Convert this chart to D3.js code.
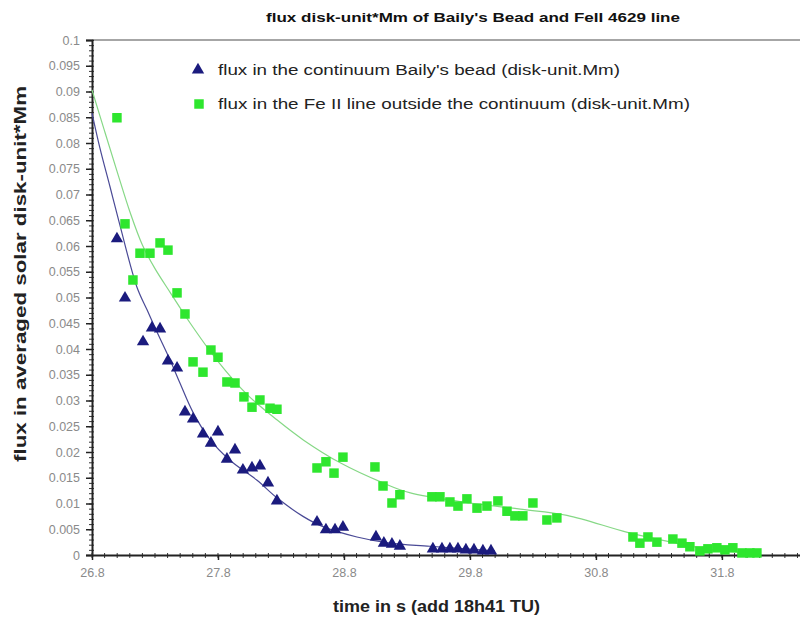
<!DOCTYPE html>
<html><head><meta charset="utf-8">
<script src="https://cdn.jsdelivr.net/npm/d3@7/dist/d3.min.js"></script>
<style>html,body{margin:0;padding:0;background:#fff;}svg{display:block;}</style>
</head><body>
<script>
const chartTitle = "flux disk-unit*Mm of Baily's Bead and FeII 4629 line";
const xTitle = "time in s (add 18h41 TU)";
const yTitle = "flux in averaged solar disk-unit*Mm";
const seriesNames = ["flux in the continuum Baily's bead (disk-unit.Mm)", "flux in the  Fe II line outside the continuum  (disk-unit.Mm)"];
const xTickValues = [26.8, 27.8, 28.8, 29.8, 30.8, 31.8];
const xTickLabels = ["26.8", "27.8", "28.8", "29.8", "30.8", "31.8"];
const yTickValues = [0, 0.005, 0.01, 0.015, 0.02, 0.025, 0.03, 0.035, 0.04, 0.045, 0.05, 0.055, 0.06, 0.065, 0.07, 0.075, 0.08, 0.085, 0.09, 0.095, 0.1];
const yTickLabels = ["0", "0.005", "0.01", "0.015", "0.02", "0.025", "0.03", "0.035", "0.04", "0.045", "0.05", "0.055", "0.06", "0.065", "0.07", "0.075", "0.08", "0.085", "0.09", "0.095", "0.1"];

// Baily's bead (continuum) points
const beadTime = [26.998, 27.062, 27.205, 27.276, 27.34, 27.403, 27.475, 27.538, 27.602, 27.681, 27.8, 27.744, 27.935, 27.871, 27.998, 28.07, 28.133, 28.197, 28.268, 28.586, 28.657, 28.729, 28.792, 29.054, 29.117, 29.181, 29.244, 29.506, 29.578, 29.641, 29.705, 29.768, 29.832, 29.903, 29.967];
const beadFlux = [0.0614, 0.0499, 0.0414, 0.0441, 0.0439, 0.0377, 0.0363, 0.0278, 0.0264, 0.0235, 0.0239, 0.0217, 0.0204, 0.0186, 0.0165, 0.0169, 0.0173, 0.014, 0.0105, 0.0064, 0.0049, 0.0049, 0.0054, 0.0035, 0.0023, 0.0021, 0.0017, 0.0012, 0.0012, 0.0012, 0.0012, 0.001, 0.001, 0.0008, 0.0008];
// Fe II line points
const feTime = [26.998, 27.062, 27.125, 27.181, 27.26, 27.34, 27.403, 27.475, 27.538, 27.602, 27.681, 27.744, 27.8, 27.871, 27.935, 28.006, 28.07, 28.133, 28.213, 28.268, 28.586, 28.657, 28.721, 28.792, 29.046, 29.11, 29.181, 29.244, 29.498, 29.562, 29.641, 29.705, 29.776, 29.856, 29.935, 30.022, 30.094, 30.157, 30.22, 30.3, 30.411, 30.49, 31.094, 31.149, 31.213, 31.284, 31.411, 31.483, 31.546, 31.625, 31.689, 31.76, 31.824, 31.887, 31.959, 32.022, 32.078];
const feFlux = [0.0849, 0.0643, 0.0534, 0.0586, 0.0586, 0.0606, 0.0592, 0.0509, 0.0468, 0.0375, 0.0355, 0.0398, 0.0384, 0.0336, 0.0334, 0.0307, 0.0287, 0.0301, 0.0285, 0.0283, 0.0169, 0.0181, 0.0159, 0.019, 0.0171, 0.0134, 0.0101, 0.0117, 0.0113, 0.0113, 0.0103, 0.0095, 0.0109, 0.0091, 0.0095, 0.0105, 0.0085, 0.0076, 0.0076, 0.0101, 0.0068, 0.0072, 0.0035, 0.0023, 0.0035, 0.0025, 0.0031, 0.0023, 0.0016, 0.0008, 0.0012, 0.0014, 0.001, 0.0014, 0.0004, 0.0004, 0.0004];

// fitted trend curves
const beadFitTime = [26.8, 26.863, 26.943, 27.022, 27.157, 27.237, 27.316, 27.419, 27.498, 27.602, 27.737, 27.895, 28.11, 28.268, 28.475, 28.633, 28.903, 29.165, 29.483, 29.998];
const beadFitFlux = [0.0858, 0.0790, 0.0715, 0.0640, 0.0520, 0.0476, 0.0433, 0.0379, 0.0334, 0.0277, 0.0224, 0.0184, 0.0145, 0.0111, 0.0075, 0.0055, 0.0035, 0.0023, 0.0017, 0.0008];
const feFitTime = [26.8, 26.9, 27.0, 27.1, 27.2, 27.3, 27.42, 27.58, 27.79, 28.03, 28.27, 28.48, 28.77, 29.11, 29.32, 29.8, 30.2, 30.57, 31.05, 31.4, 31.73, 32.08];
const feFitFlux = [0.0903, 0.0823, 0.0744, 0.0667, 0.0602, 0.0556, 0.0510, 0.0450, 0.0379, 0.0312, 0.0262, 0.0223, 0.0179, 0.0140, 0.0121, 0.0101, 0.0089, 0.0077, 0.0044, 0.0025, 0.0010, 0.0003];

const W = 800, H = 619;
const svg = d3.select("body").append("svg").attr("width", W).attr("height", H);
const mLeft = 92, mRight = 800, mTop = 40, mBottom = 555;

const x = d3.scaleLinear().domain([26.8, 32.42]).range([mLeft, mRight]);
const y = d3.scaleLinear().domain([0, 0.1]).range([mBottom, mTop]);

const font = "'Liberation Sans', Arial, sans-serif";

// top frame line
svg.append("line").attr("x1", mLeft).attr("x2", mRight).attr("y1", mTop).attr("y2", mTop)
  .attr("stroke", "#888").attr("stroke-width", 1.5);

// y axis minor ticks
const yMinor = d3.range(0, 101).map(i => i / 1000);
svg.append("g").selectAll("line").data(yMinor).join("line")
  .attr("x1", mLeft - 3).attr("x2", mLeft + 2)
  .attr("y1", d => y(d) + 0.5).attr("y2", d => y(d) + 0.5)
  .attr("stroke", "#333").attr("stroke-width", 1);

// y axis
const yAxis = d3.axisLeft(y).tickValues(yTickValues).tickFormat((d, i) => yTickLabels[i]).tickSize(6).tickPadding(6);
const gy = svg.append("g").attr("transform", `translate(${mLeft},0)`).call(yAxis);
gy.select(".domain").attr("stroke", "#222").attr("stroke-width", 2);
gy.selectAll(".tick line").attr("stroke", "#222").attr("stroke-width", 1.5);
gy.selectAll(".tick text").attr("fill", "#8a8a8a").attr("font-family", font).attr("font-size", 12.5);

// x minor ticks
const xMinor = d3.range(0, 57).map(i => 26.8 + i * 0.1);
svg.append("g").selectAll("line").data(xMinor).join("line")
  .attr("x1", d => x(d)).attr("x2", d => x(d))
  .attr("y1", mBottom - 2).attr("y2", mBottom + 3)
  .attr("stroke", "#333").attr("stroke-width", 1);

// x axis
const xAxis = d3.axisBottom(x).tickValues(xTickValues).tickFormat((d, i) => xTickLabels[i]).tickSize(5).tickPadding(8).tickSizeOuter(0);
const gx = svg.append("g").attr("transform", `translate(0,${mBottom})`).call(xAxis);
gx.select(".domain").attr("stroke", "#222").attr("stroke-width", 2);
gx.selectAll(".tick line").attr("stroke", "#222").attr("stroke-width", 1.5);
gx.selectAll(".tick text").attr("fill", "#8a8a8a").attr("font-family", font).attr("font-size", 12.5);

// fit lines
const line = d3.line().x(d => x(d[0])).y(d => y(d[1])).curve(d3.curveCatmullRom.alpha(0.5));
svg.append("path").datum(feFitTime.map((t, i) => [t, feFitFlux[i]]))
  .attr("d", line).attr("fill", "none").attr("stroke", "#86d886").attr("stroke-width", 1.2);
svg.append("path").datum(beadFitTime.map((t, i) => [t, beadFitFlux[i]]))
  .attr("d", line).attr("fill", "none").attr("stroke", "#4a4a96").attr("stroke-width", 1.2);

const green = "#2ee62e", navy = "#1b1b7e";
const sq = d3.symbol().type(d3.symbolSquare).size(90);
const tri = d3.symbol().type(d3.symbolTriangle).size(66);

svg.append("g").selectAll("path").data(feTime.map((t, i) => [t, feFlux[i]])).join("path")
  .attr("d", sq).attr("transform", d => `translate(${x(d[0])},${y(d[1])})`).attr("fill", green);
svg.append("g").selectAll("path").data(beadTime.map((t, i) => [t, beadFlux[i]])).join("path")
  .attr("d", tri).attr("transform", d => `translate(${x(d[0])},${y(d[1])})`).attr("fill", navy);

// legend
svg.append("path").attr("d", tri).attr("transform", "translate(198,70)").attr("fill", navy);
svg.append("text").attr("x", 218).attr("y", 75).attr("font-family", font).attr("font-size", 14)
  .attr("fill", "#222").attr("textLength", 402).attr("lengthAdjust", "spacingAndGlyphs").text(seriesNames[0]);
svg.append("path").attr("d", sq).attr("transform", "translate(199,104)").attr("fill", green);
svg.append("text").attr("x", 218).attr("y", 109).attr("font-family", font).attr("font-size", 14)
  .attr("fill", "#222").attr("textLength", 472).attr("lengthAdjust", "spacingAndGlyphs").text(seriesNames[1]);

// title
svg.append("text").attr("x", 266).attr("y", 22).attr("font-family", font).attr("font-size", 13.5)
  .attr("font-weight", "bold").attr("fill", "#111").attr("textLength", 414).attr("lengthAdjust", "spacingAndGlyphs").text(chartTitle);

// axis titles
svg.append("text").attr("x", 333).attr("y", 612).attr("font-family", font)
  .attr("font-size", 16.5).attr("font-weight", "bold").attr("fill", "#222")
  .attr("textLength", 207).attr("lengthAdjust", "spacingAndGlyphs").text(xTitle);
svg.append("text").attr("transform", "translate(26,462) rotate(-90)")
  .attr("font-family", font).attr("font-size", 17).attr("font-weight", "bold").attr("fill", "#222")
  .attr("textLength", 376).attr("lengthAdjust", "spacingAndGlyphs").text(yTitle);
</script>
</body></html>
